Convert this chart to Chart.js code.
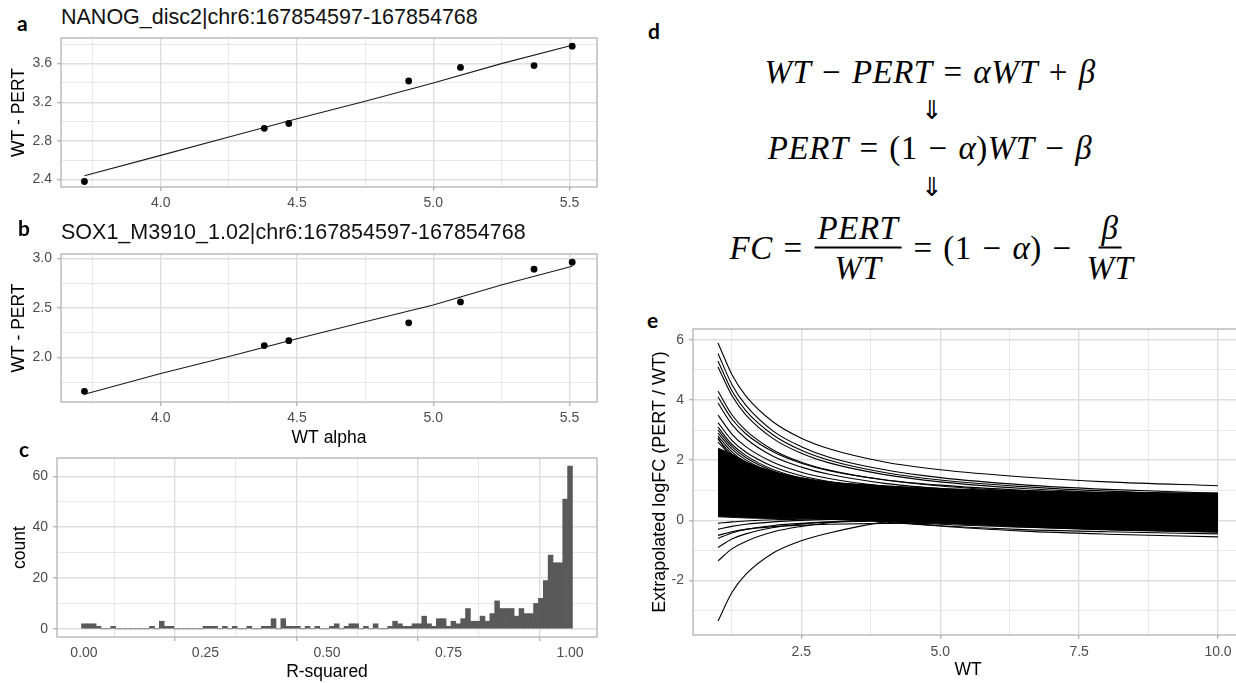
<!DOCTYPE html>
<html>
<head>
<meta charset="utf-8">
<script src="https://cdn.jsdelivr.net/npm/chart.js@4.4.0/dist/chart.umd.min.js"></script>
<style>
  html, body { margin: 0; padding: 0; width: 1236px; height: 683px; overflow: hidden; background: #fff; }
  canvas { position: absolute; }
  .tag { position: absolute; font: bold 21px Lato, sans-serif; color: #000; line-height: 1; }
  .ttl { position: absolute; font: 21.5px "Liberation Sans", Arial, sans-serif; color: #111; line-height: 1; white-space: nowrap; }
  .eq { position: absolute; font-family: "Liberation Serif", serif; font-size: 33px; letter-spacing: 0.5px; word-spacing: 2px;
        line-height: 1; white-space: nowrap; transform: translate(-50%, -50%); color: #000; }
  .eq i { font-style: italic; }
  .row { display: flex; align-items: center; }
  .row > span { margin: 0 6px; }
  .frac { display: inline-flex; flex-direction: column; align-items: center; }
  .frac .num { border-bottom: 2px solid #000; padding: 0 3px 2px; }
  .frac .den { padding: 3px 3px 0; }
  .arr { font-family: "DejaVu Sans", sans-serif; font-size: 26px; letter-spacing: 0; }
</style>
</head>
<body>

<div class="tag" style="left:17px; top:12px">a</div>
<div class="ttl" style="left:61px; top:7px">NANOG_disc2|chr6:167854597-167854768</div>
<canvas id="chartA" width="610" height="202" style="left:0; top:18px"></canvas>

<div class="tag" style="left:18px; top:217px">b</div>
<div class="ttl" style="left:61px; top:222px">SOX1_M3910_1.02|chr6:167854597-167854768</div>
<canvas id="chartB" width="610" height="216" style="left:0; top:234px"></canvas>

<div class="tag" style="left:19px; top:438px">c</div>
<canvas id="chartC" width="612" height="245" style="left:0; top:438px"></canvas>

<div class="tag" style="left:648px; top:20px">d</div>
<div class="eq" style="left:930px; top:72px"><i>WT</i> − <i>PERT</i> = <i>αWT</i> + <i>β</i></div>
<div class="eq arr" style="left:932px; top:110px">⇓</div>
<div class="eq" style="left:930px; top:148px"><i>PERT</i> = (1 − <i>α</i>)<i>WT</i> − <i>β</i></div>
<div class="eq arr" style="left:932px; top:187px">⇓</div>
<div class="eq row" style="left:933px; top:248px">
  <span><i>FC</i> =</span>
  <span class="frac"><span class="num"><i>PERT</i></span><span class="den"><i>WT</i></span></span>
  <span>= (1 − <i>α</i>) −</span>
  <span class="frac"><span class="num"><i>β</i></span><span class="den"><i>WT</i></span></span>
</div>

<div class="tag" style="left:647px; top:309px">e</div>
<canvas id="chartE" width="640" height="374" style="left:620px; top:309px"></canvas>

<script>
// --- panels a / b : WT alpha vs WT - PERT ---
const wtAlpha = [3.72, 4.38, 4.47, 4.91, 5.10, 5.37, 5.51];
const nanogDiff = [2.38, 2.93, 2.98, 3.42, 3.56, 3.58, 3.78];
const sox1Diff = [1.66, 2.12, 2.17, 2.35, 2.56, 2.89, 2.96];
const fitX = [3.72, 4.0, 4.25, 4.5, 4.75, 5.0, 5.25, 5.51];
const nanogFit = [2.44, 2.65, 2.84, 3.03, 3.21, 3.40, 3.60, 3.79];
const sox1Fit = [1.63, 1.84, 2.01, 2.19, 2.36, 2.53, 2.73, 2.92];

// --- panel c : histogram of R-squared (bins of 0.01, centred on 0.00 ... 1.00) ---
const rsqCounts = [
  2, 2, 2, 1, 0, 0, 1, 0, 0, 0,
  0, 0, 0, 0, 1, 0, 3, 1, 1, 0,
  0, 0, 0, 0, 0, 1, 1, 1, 0, 1,
  0, 1, 0, 0, 1, 0, 0, 1, 1, 4,
  0, 4, 1, 1, 1, 0, 1, 0, 1, 0,
  0, 1, 2, 0, 1, 2, 2, 0, 1, 0,
  2, 0, 0, 1, 3, 2, 1, 1, 2, 2,
  5, 2, 1, 4, 4, 1, 3, 2, 4, 8,
  3, 3, 5, 3, 6, 11, 8, 8, 8, 5,
  8, 6, 6, 10, 12, 19, 29, 26, 26, 51, 64
];
const binWidth = 0.01;

// --- panel e : extrapolated logFC curves ---
const wtGrid = [1, 1.25, 1.5, 2, 2.5, 3, 4, 5, 6.5, 8, 10];
const upperCurves = [
  [5.90, 4.85, 4.14, 3.26, 2.73, 2.38, 1.94, 1.68, 1.44, 1.28, 1.15],
  [5.55, 4.52, 3.83, 2.96, 2.45, 2.10, 1.68, 1.42, 1.18, 1.03, 0.90],
  [5.30, 4.31, 3.65, 2.83, 2.33, 2.00, 1.59, 1.34, 1.12, 0.97, 0.85],
  [5.10, 4.15, 3.51, 2.71, 2.23, 1.91, 1.52, 1.28, 1.06, 0.92, 0.80],
  [4.30, 3.51, 2.99, 2.33, 1.93, 1.67, 1.34, 1.14, 0.96, 0.85, 0.75],
  [4.10, 3.37, 2.88, 2.27, 1.90, 1.65, 1.35, 1.17, 1.00, 0.89, 0.80],
  [3.90, 3.19, 2.72, 2.12, 1.77, 1.53, 1.23, 1.06, 0.89, 0.79, 0.70],
  [3.50, 2.87, 2.45, 1.92, 1.60, 1.39, 1.13, 0.97, 0.82, 0.73, 0.65],
  [3.25, 2.66, 2.27, 1.78, 1.48, 1.29, 1.04, 0.89, 0.76, 0.67, 0.60],
  [3.10, 2.53, 2.16, 1.68, 1.40, 1.21, 0.98, 0.83, 0.70, 0.62, 0.55],
  [3.00, 2.45, 2.09, 1.63, 1.35, 1.17, 0.94, 0.80, 0.68, 0.60, 0.53],
  [2.90, 2.37, 2.01, 1.57, 1.30, 1.12, 0.90, 0.77, 0.64, 0.57, 0.50],
  [2.80, 2.28, 1.93, 1.50, 1.24, 1.07, 0.86, 0.73, 0.61, 0.54, 0.48],
  [2.70, 2.20, 1.87, 1.45, 1.20, 1.03, 0.83, 0.70, 0.59, 0.51, 0.45],
  [2.60, 2.14, 1.84, 1.46, 1.23, 1.08, 0.89, 0.78, 0.67, 0.61, 0.55]
];
const lowerCurves = [
  [-3.35, -2.40, -1.80, -1.08, -0.68, -0.42, -0.05, 0.15, 0.33, 0.45, 0.55],
  [-1.35, -0.95, -0.70, -0.38, -0.20, -0.08, 0.05, 0.13, 0.20, 0.25, 0.30],
  [-0.90, -0.62, -0.45, -0.24, -0.12, -0.05, 0.03, 0.08, 0.12, 0.15, 0.18],
  [-0.60, -0.42, -0.30, -0.17, -0.10, -0.06, -0.02, 0.00, 0.02, 0.03, 0.04],
  [-0.50, -0.38, -0.30, -0.21, -0.16, -0.13, -0.10, -0.09, -0.08, -0.07, -0.06],
  [-0.30, -0.20, -0.13, -0.05, 0.00, 0.03, 0.06, 0.08, 0.10, 0.11, 0.12],
  [-0.10, -0.05, -0.02, 0.02, 0.04, 0.05, 0.07, 0.08, 0.09, 0.10, 0.10],
  [2.75, 2.02, 1.53, 0.92, 0.55, 0.30, 0.00, -0.19, -0.36, -0.46, -0.55],
  [1.95, 1.42, 1.06, 0.62, 0.35, 0.17, -0.05, -0.18, -0.31, -0.38, -0.45],
  [1.63, 1.19, 0.90, 0.53, 0.31, 0.16, -0.02, -0.13, -0.23, -0.30, -0.35],
  [1.28, 0.94, 0.71, 0.43, 0.26, 0.15, 0.01, -0.08, -0.16, -0.21, -0.25]
];
// the dense black band where most curves overlap
const bandTop = [2.40, 2.20, 1.95, 1.62, 1.42, 1.28, 1.15, 1.06, 0.98, 0.93, 0.91];
const bandBottom = [0.12, 0.10, 0.08, 0.06, 0.05, 0.03, -0.02, -0.10, -0.22, -0.32, -0.40];

// tick labels
const abMajorX = [4.0, 4.5, 5.0, 5.5];
const abMajorXLabels = ['4.0', '4.5', '5.0', '5.5'];
const aMajorY = [2.4, 2.8, 3.2, 3.6];
const aMajorYLabels = ['2.4', '2.8', '3.2', '3.6'];
const bMajorY = [2.0, 2.5, 3.0];
const bMajorYLabels = ['2.0', '2.5', '3.0'];
const cMajorX = [0, 0.25, 0.5, 0.75, 1];
const cMajorXLabels = ['0.00', '0.25', '0.50', '0.75', '1.00'];
const cMajorY = [0, 20, 40, 60];
const cMajorYLabels = ['0', '20', '40', '60'];
const eMajorX = [2.5, 5, 7.5, 10];
const eMajorXLabels = ['2.5', '5.0', '7.5', '10.0'];
const eMajorY = [-2, 0, 2, 4, 6];
const eMajorYLabels = ['-2', '0', '2', '4', '6'];

Chart.defaults.font.family = 'Liberation Sans';
Chart.defaults.animation = false;
Chart.defaults.plugins.legend.display = false;
Chart.defaults.plugins.tooltip.enabled = false;

// grey panel border drawn on top, like ggplot's theme_light
const framePlugin = {
  id: 'frame',
  afterDraw(chart) {
    const { ctx, chartArea: a } = chart;
    ctx.save();
    ctx.strokeStyle = '#B3B3B3';
    ctx.lineWidth = 1.3;
    ctx.strokeRect(a.left, a.top, a.right - a.left, a.bottom - a.top);
    ctx.restore();
  }
};

// builds an axis with major + minor grid lines
function ggScale(o) {
  const all = o.major.concat(o.minor).sort((p, q) => p - q);
  const majorIndex = v => o.major.findIndex(m => Math.abs(m - v) < 1e-9);
  return {
    type: 'linear',
    position: o.position,
    min: o.min,
    max: o.max,
    afterBuildTicks: s => { s.ticks = all.map(v => ({ value: v })); },
    afterFit: s => {
      if (o.position === 'left') s.width = o.size; else s.height = o.size;
    },
    ticks: {
      autoSkip: false,
      maxRotation: 0,
      padding: o.pad,
      color: '#4D4D4D',
      font: { size: 14 },
      callback: v => { const i = majorIndex(v); return i < 0 ? '' : o.labels[i]; }
    },
    grid: {
      color: '#DEDEDE',
      lineWidth: c => (c.tick && majorIndex(c.tick.value) >= 0) ? 1.4 : 0.7,
      tickLength: 4,
      tickWidth: 1.3,
      tickColor: c => (c.tick && majorIndex(c.tick.value) >= 0) ? '#B3B3B3' : 'rgba(0,0,0,0)'
    },
    border: { display: false },
    title: {
      display: !!o.title,
      text: o.title,
      color: '#000',
      font: { size: o.titleSize || 17.5 },
      padding: o.titlePad || 0
    }
  };
}

function xyPairs(xs, ys) {
  return xs.map((x, i) => ({ x: x, y: ys[i] }));
}

// === PANEL A ===
new Chart(document.getElementById('chartA'), {
  type: 'scatter',
  data: {
    datasets: [
      { data: xyPairs(wtAlpha, nanogDiff), pointRadius: 3.4, backgroundColor: '#000', borderWidth: 0 },
      { data: xyPairs(fitX, nanogFit), showLine: true, pointRadius: 0, borderColor: '#1a1a1a', borderWidth: 1.1 }
    ]
  },
  options: {
    responsive: false,
    devicePixelRatio: 1,
    layout: { padding: { top: 20, right: 13, left: 0, bottom: 0 } },
    scales: {
      x: ggScale({ position: 'bottom', min: 3.634, max: 5.601, major: abMajorX, minor: [3.75, 4.25, 4.75, 5.25],
                   labels: abMajorXLabels, size: 33, pad: 4 }),
      y: ggScale({ position: 'left', min: 2.323, max: 3.865, major: aMajorY, minor: [2.6, 3.0, 3.4, 3.8],
                   labels: aMajorYLabels, size: 61, pad: 5, title: 'WT - PERT', titlePad: { top: 9 } })
    }
  },
  plugins: [framePlugin]
});

// === PANEL B ===
new Chart(document.getElementById('chartB'), {
  type: 'scatter',
  data: {
    datasets: [
      { data: xyPairs(wtAlpha, sox1Diff), pointRadius: 3.4, backgroundColor: '#000', borderWidth: 0 },
      { data: xyPairs(fitX, sox1Fit), showLine: true, pointRadius: 0, borderColor: '#1a1a1a', borderWidth: 1.1 }
    ]
  },
  options: {
    responsive: false,
    devicePixelRatio: 1,
    layout: { padding: { top: 20, right: 13, left: 0, bottom: 0 } },
    scales: {
      x: ggScale({ position: 'bottom', min: 3.634, max: 5.601, major: abMajorX, minor: [3.75, 4.25, 4.75, 5.25],
                   labels: abMajorXLabels, size: 48, pad: 4, title: 'WT alpha', titlePad: { bottom: 1.5 } }),
      y: ggScale({ position: 'left', min: 1.552, max: 3.043, major: bMajorY, minor: [1.75, 2.25, 2.75],
                   labels: bMajorYLabels, size: 61, pad: 5, title: 'WT - PERT', titlePad: { top: 9 } })
    }
  },
  plugins: [framePlugin]
});

// === PANEL C ===
new Chart(document.getElementById('chartC'), {
  type: 'bar',
  data: {
    datasets: [{
      data: rsqCounts.map((c, i) => ({ x: i * binWidth, y: c })),
      backgroundColor: '#595959',
      borderWidth: 0,
      barPercentage: 1,
      categoryPercentage: 1
    }]
  },
  options: {
    responsive: false,
    devicePixelRatio: 1,
    layout: { padding: { top: 20, right: 15, left: 0, bottom: 0 } },
    scales: {
      x: Object.assign(ggScale({ position: 'bottom', min: -0.0555, max: 1.0555, major: cMajorX, minor: [0.125, 0.375, 0.625, 0.875],
                   labels: cMajorXLabels, size: 46, pad: 4, title: 'R-squared', titlePad: { bottom: 0.5 } }), { offset: false }),
      y: ggScale({ position: 'left', min: -3.2, max: 67.2, major: cMajorY, minor: [10, 30, 50],
                   labels: cMajorYLabels, size: 57, pad: 5, title: 'count', titlePad: { top: 9.5 } })
    }
  },
  plugins: [framePlugin]
});

// === PANEL E ===
const eDatasets = [];
eDatasets.push({ data: xyPairs(wtGrid, bandTop), fill: '+1', backgroundColor: '#000', borderColor: '#000', borderWidth: 1 });
eDatasets.push({ data: xyPairs(wtGrid, bandBottom), fill: false, borderColor: '#000', borderWidth: 1 });
upperCurves.concat(lowerCurves).forEach(curve => {
  eDatasets.push({ data: xyPairs(wtGrid, curve), fill: false, borderColor: '#000', borderWidth: 1.1 });
});

new Chart(document.getElementById('chartE'), {
  type: 'line',
  data: { datasets: eDatasets },
  options: {
    responsive: false,
    devicePixelRatio: 1,
    layout: { padding: { top: 20, right: 17, left: 0, bottom: 0 } },
    elements: { point: { radius: 0 }, line: { cubicInterpolationMode: 'monotone' } },
    scales: {
      x: ggScale({ position: 'bottom', min: 0.55, max: 10.45, major: eMajorX, minor: [1.25, 3.75, 6.25, 8.75],
                   labels: eMajorXLabels, size: 48, pad: 4.5, title: 'WT', titlePad: { bottom: 2.5 } }),
      y: ggScale({ position: 'left', min: -3.8125, max: 6.3625, major: eMajorY, minor: [-3, -1, 1, 3, 5],
                   labels: eMajorYLabels, size: 73, pad: 5, title: 'Extrapolated logFC (PERT / WT)', titleSize: 18, titlePad: { top: 29 } })
    }
  },
  plugins: [framePlugin]
});
</script>
</body>
</html>
